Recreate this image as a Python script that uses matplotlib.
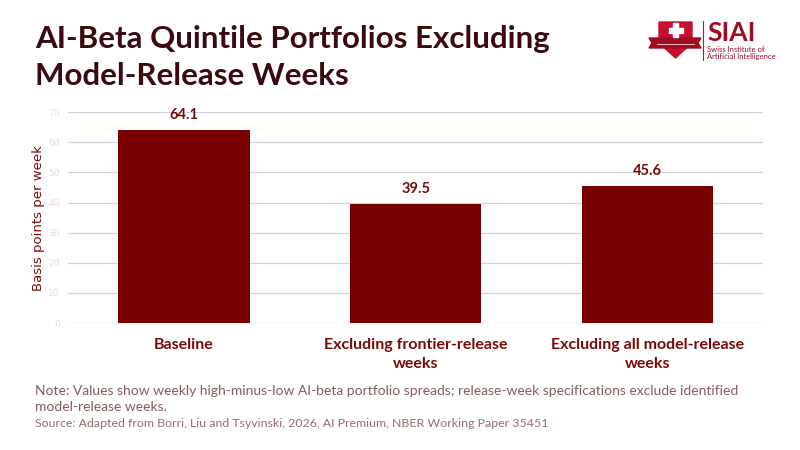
import matplotlib.pyplot as plt
from matplotlib.patches import Polygon, Rectangle

categories = ["Baseline", "Excluding frontier-release\nweeks", "Excluding all model-release\nweeks"]
values = [64.1, 39.5, 45.6]
yticks = [0, 10, 20, 30, 40, 50, 60, 70]

BAR = "#780000"
DARK = "#3b0a0f"
LABEL = "#7a0a0a"

fig = plt.figure(figsize=(8, 4.5), dpi=100)
ax = fig.add_axes([0.085, 0.282, 0.869, 0.469])

x = range(len(categories))
ax.bar(x, values, width=0.567, color=BAR, zorder=2)
for xi, v in zip(x, values):
    ax.text(xi, v + 2.5, f"{v:.1f}", ha="center", va="bottom", fontsize=10.5,
            fontweight="bold", color=LABEL, family="Lato")

ax.set_xlim(-0.5, 2.5)
ax.set_ylim(0, 70)
ax.set_yticks(yticks)
ax.set_yticklabels([str(t) for t in yticks], fontsize=6.5, color="#f5d5d5")
ax.set_xticks(list(x))
ax.set_xticklabels(categories, fontsize=11.5, fontweight="bold", color=LABEL,
                   family="Lato", linespacing=1.45)
ax.grid(axis="y", color="#d0d4e2", linewidth=0.9, zorder=0)
ax.tick_params(axis="both", length=0)
ax.tick_params(axis="x", pad=11)
ax.tick_params(axis="y", pad=6)
for s in ax.spines.values():
    s.set_visible(False)
ax.set_ylabel("Basis points per week", fontsize=9.5, color=LABEL)
ax.yaxis.set_label_coords(-0.033, 0.5)

fig.text(0.044, 0.893, "AI-Beta Quintile Portfolios Excluding",
         fontsize=22.5, fontweight="bold", color=DARK, family="Lato", va="baseline")
fig.text(0.044, 0.811, "Model-Release Weeks",
         fontsize=22.5, fontweight="bold", color=DARK, family="Lato", va="baseline")

fig.text(0.044, 0.122, "Note: Values show weekly high-minus-low AI-beta portfolio spreads; "
         "release-week specifications exclude identified",
         fontsize=10, color="#8a5a5e", family="Lato", va="baseline")
fig.text(0.044, 0.087, "model-release weeks.",
         fontsize=10, color="#8a5a5e", family="Lato", va="baseline")
fig.text(0.044, 0.051, "Source: Adapted from Borri, Liu and Tsyvinski, 2026, AI Premium, "
         "NBER Working Paper 35451", fontsize=8.9, color="#9a6a6e", family="Lato",
         va="baseline")

# logo, drawn in pixel units inside a small axes
lg = fig.add_axes([648 / 800, 1 - 61 / 450, 120 / 800, 41 / 450])
lg.set_xlim(0, 120)
lg.set_ylim(0, 41)
lg.axis("off")
lg.add_patch(Polygon([(11, 39), (44, 39), (44, 18), (27.5, 3), (11, 18)], color="#c8102e"))
lg.add_patch(Polygon([(1, 23), (53, 23), (50, 18), (53, 13), (1, 13), (4, 18)], color="#a00c22"))
lg.plot([9, 46], [17, 17], color="white", lw=0.5)
lg.add_patch(Rectangle((25, 24), 5, 14, color="white"))
lg.add_patch(Rectangle((20.5, 28.5), 14, 5, color="white"))
lg.plot([55, 55], [1, 40], color="#c8102e", lw=0.8)
lg.text(59, 20, "SIAI", fontsize=19, fontweight="bold", color="#a00c22",
        family="Lato", va="baseline")
lg.text(59, 9, "Swiss Institute of", fontsize=5.5, color="#a00c22", family="Lato", va="baseline")
lg.text(59, 2.5, "Artificial Intelligence", fontsize=5.5, color="#a00c22", family="Lato", va="baseline")

fig.savefig("out.png", dpi=100)
